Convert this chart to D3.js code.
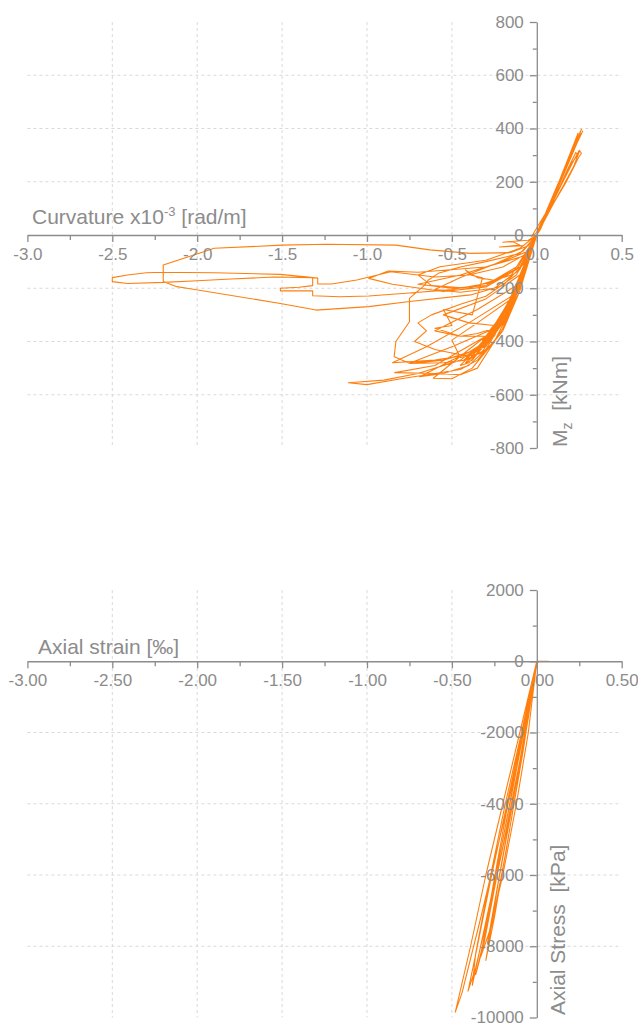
<html><head>
<title>Moment-curvature and axial stress-strain</title>
<style>
body { margin: 0; background: #fff; }
svg { display: block; font-family: "Liberation Sans", Arial, sans-serif; }
.axis path, .axis line { stroke: #8c8c8c; stroke-width: 1.3; }
.axis text { fill: #8c8c8c; font-size: 17px; font-family: "Liberation Sans", Arial, sans-serif; }
.grid line { stroke: #d9d9d9; stroke-width: 1; stroke-dasharray: 3,3; }
.title { fill: #8c8c8c; font-size: 21px; }
.curve { fill: none; stroke: #ff7f0e; stroke-width: 1.1; stroke-linejoin: round; }
</style>
<script src="https://cdnjs.cloudflare.com/ajax/libs/d3/7.8.5/d3.min.js"></script>
</head>
<body>
<svg id="chart" width="638" height="1026"></svg>
<script>
// tick values
const curvTicks = [-3.0, -2.5, -2.0, -1.5, -1.0, -0.5, 0.0, 0.5];
const momentTicks = [800, 600, 400, 200, 0, -200, -400, -600, -800];
const strainTicks = [-3.0, -2.5, -2.0, -1.5, -1.0, -0.5, 0.0, 0.5];
const stressTicks = [2000, 0, -2000, -4000, -6000, -8000, -10000];

// moment-curvature [curvature x1e-3, Mz], positive branch cycles
const mzPositive = [
  [0, 0], [0.07, 100], [0.14, 200], [0.2, 295], [0.263, 397], [0.24, 365], [0.16, 245], [0.08, 120], [0, 10],
  [-0.03, -5], [0.06, 90], [0.13, 190], [0.19, 285], [0.243, 382], [0.22, 345], [0.14, 215], [0.06, 85], [0, 0],
  [0.1, 120], [0.17, 195], [0.21, 245], [0.245, 290], [0.263, 307], [0.25, 318], [0.21, 270], [0.15, 195], [0.08, 105], [0.02, 20], [0, 0],
  [0.09, 110], [0.16, 190], [0.215, 255], [0.253, 317], [0.24, 305], [0.19, 250], [0.12, 160], [0.05, 60], [0, 0],
  [0.07, 105], [0.14, 205], [0.2, 300], [0.27, 390], [0.21, 310], [0.11, 160], [0, 0],
  [0.06, 95], [0.12, 185], [0.18, 270], [0.24, 360], [0.26, 380], [0.2, 290], [0.1, 140], [0, 0],
  [0.08, 110], [0.15, 200], [0.2, 265], [0.24, 300], [0.23, 310], [0.18, 245], [0.1, 130], [0, 0]
];

// small cycles around origin and the dense negative band
const mzNear = [
  [-0.05, -20], [-0.2, -27], [-0.14, -25], [-0.1, -38], [-0.22, -45], [-0.08, -40], [0, 0],
  [-0.05, -100], [-0.1, -190], [-0.15, -265], [-0.2, -325], [-0.25, -370], [-0.22, -345], [-0.15, -270], [-0.08, -150], [-0.02, -30], [0, 0],
  [-0.06, -110], [-0.12, -210], [-0.18, -290], [-0.24, -350], [-0.3, -405], [-0.27, -390], [-0.2, -320], [-0.12, -200], [-0.04, -60], [0, 0],
  [-0.07, -120], [-0.14, -230], [-0.21, -310], [-0.28, -375], [-0.35, -440], [-0.31, -420], [-0.22, -330], [-0.13, -210], [-0.05, -70], [0, 0],
  [-0.08, -130], [-0.16, -250], [-0.24, -330], [-0.32, -400], [-0.4, -470], [-0.36, -450], [-0.26, -360], [-0.15, -230], [-0.05, -80], [0, 0],
  [-0.06, -105], [-0.13, -215], [-0.2, -300], [-0.27, -360], [-0.33, -410], [-0.38, -440], [-0.3, -395], [-0.2, -300], [-0.1, -160], [0, 0],
  [-0.04, -80], [-0.09, -170], [-0.14, -245], [-0.19, -305], [-0.23, -345], [-0.2, -330], [-0.14, -255], [-0.07, -140], [0, 0],
  [-0.05, -95], [-0.11, -195], [-0.17, -280], [-0.23, -345], [-0.28, -390], [-0.33, -430], [-0.29, -410], [-0.21, -330], [-0.12, -205], [-0.04, -70], [0, 0],
  [-0.06, -100], [-0.12, -200], [-0.19, -290], [-0.26, -360], [-0.33, -420], [-0.42, -480], [-0.38, -470], [-0.28, -390], [-0.17, -270], [-0.07, -120], [0, 0],
  [-0.07, -115], [-0.15, -235], [-0.22, -315], [-0.3, -385], [-0.38, -445], [-0.45, -490], [-0.4, -480], [-0.3, -410], [-0.18, -290], [-0.08, -140], [0, 0],
  [-0.05, -90], [-0.1, -180], [-0.16, -262], [-0.22, -322], [-0.27, -365], [-0.32, -395], [-0.26, -370], [-0.18, -300], [-0.09, -170], [0, 0],
  [-0.06, -95], [-0.13, -205], [-0.2, -295], [-0.28, -370], [-0.36, -430], [-0.43, -470], [-0.39, -460], [-0.29, -380], [-0.16, -245], [-0.06, -90], [0, 0],
  [-0.1, -50], [-0.3, -95], [-0.57, -119], [-0.7, -150], [-0.62, -190], [-0.4, -200], [-0.15, -150], [0, 0],
  [-0.08, -60], [-0.25, -110], [-0.45, -160], [-0.6, -205], [-0.45, -215], [-0.25, -200], [-0.1, -130], [0, 0],
  [-0.1, -150], [-0.3, -240], [-0.55, -300], [-0.4, -330], [-0.25, -340], [-0.15, -250], [0, 0],
  [-0.12, -190], [-0.35, -280], [-0.6, -360], [-0.45, -380], [-0.3, -380], [-0.2, -320], [0, 0],
  [-0.05, -60], [-0.2, -100], [-0.45, -150], [-0.7, -185], [-0.5, -200], [-0.3, -190], [-0.1, -120], [0, 0]
];

// wide loops reaching far negative curvature
const mzFar = [
  [-0.05, -40], [-0.153, -66], [-0.39, -69], [-0.63, -56], [-0.83, -38], [-1.24, -35], [-1.5, -38], [-1.9, -50], [-2.2, -113],
  [-2.2, -175], [-2.12, -194], [-2.06, -200], [-1.51, -257], [-1.3, -282], [-0.99, -269], [-0.75, -250], [-0.39, -225], [-0.2, -190], [-0.08, -110], [0, 0],
  [-0.06, -70], [-0.2, -120], [-0.4, -150], [-0.6, -158], [-0.86, -138], [-0.98, -157], [-1.06, -169], [-1.21, -184], [-1.29, -184],
  [-1.29, -162], [-1.51, -148], [-1.9, -142], [-2.2, -140], [-2.3, -142], [-2.41, -150], [-2.5, -160], [-2.5, -175], [-2.41, -182],
  [-2.2, -178], [-2.0, -172], [-1.8, -165], [-1.55, -158], [-1.32, -160], [-1.32, -190], [-1.4, -196], [-1.51, -200], [-1.51, -210],
  [-1.32, -210], [-1.32, -228], [-1.16, -232], [-0.99, -229], [-0.75, -218], [-0.5, -205], [-0.28, -180], [-0.12, -120], [0, 0],
  [-0.08, -80], [-0.3, -120], [-0.7, -140], [-0.875, -135], [-0.99, -163], [-0.85, -185], [-0.69, -200], [-0.55, -212], [-0.3, -195], [-0.12, -130], [0, 0]
];

// irregular and lower loops
const mzLower = [
  [-0.1, -70], [-0.3, -100], [-0.45, -120], [-0.58, -144], [-0.64, -170], [-0.66, -188], [-0.75, -238], [-0.75, -326], [-0.83, -400],
  [-0.84, -457], [-0.75, -482], [-0.55, -470], [-0.4, -440], [-0.3, -400], [-0.2, -320], [-0.1, -180], [0, 0],
  [-0.1, -120], [-0.25, -170], [-0.35, -160], [-0.42, -131], [-0.39, -150], [-0.32, -161], [-0.38, -300], [-0.55, -280], [-0.5, -340],
  [-0.6, -350], [-0.45, -380], [-0.35, -370], [-0.25, -350], [-0.1, -200], [0, 0],
  [-0.1, -200], [-0.2, -320], [-0.3, -400], [-0.45, -470], [-0.7, -520], [-0.9, -545], [-1.11, -555], [-1.0, -562], [-0.8, -540],
  [-0.6, -520], [-0.45, -505], [-0.35, -470], [-0.2, -360], [-0.1, -210], [0, 0],
  [-0.15, -280], [-0.3, -410], [-0.5, -470], [-0.69, -532], [-0.55, -520], [-0.4, -490], [-0.25, -400], [-0.1, -210], [0, 0],
  [-0.15, -260], [-0.3, -380], [-0.6, -490], [-0.837, -517], [-0.6, -520], [-0.45, -525], [-0.35, -500], [-0.2, -350], [0, 0],
  [-0.2, -330], [-0.4, -430], [-0.61, -538], [-0.5, -540], [-0.38, -500], [-0.2, -360], [0, 0],
  [-0.12, -150], [-0.3, -230], [-0.45, -260], [-0.62, -300], [-0.7, -330], [-0.65, -360], [-0.72, -400], [-0.6, -430], [-0.45, -450],
  [-0.3, -420], [-0.15, -260], [0, 0],
  [-0.14, -250], [-0.28, -360], [-0.5, -420], [-0.75, -482], [-0.55, -480], [-0.42, -470], [-0.3, -430], [-0.15, -270], [0, 0],
  [-0.15, -240], [-0.35, -330], [-0.5, -395], [-0.45, -460], [-0.33, -445], [-0.2, -330], [0, 0],
  [-0.15, -230], [-0.4, -330], [-0.65, -420], [-0.85, -480], [-0.6, -470], [-0.4, -450], [-0.25, -380], [0, 0]
];

// axial strain [permil] vs axial stress [kPa]
const axialCurve = [
  [0, 0], [0.03, 0], [0.07, 0], [0.02, 0], [0, 0],
  [-0.08, -2000], [-0.16, -4000], [-0.24, -6000], [-0.3, -7500], [-0.33, -8300], [-0.28, -7600], [-0.2, -6000], [-0.12, -4000], [-0.05, -2000], [0, 0],
  [-0.09, -2100], [-0.18, -4100], [-0.27, -6100], [-0.35, -8000], [-0.405, -9260], [-0.36, -8600], [-0.28, -7000], [-0.2, -5200], [-0.1, -2800], [0, 0],
  [-0.07, -2000], [-0.15, -4200], [-0.23, -6300], [-0.3, -8400], [-0.25, -7200], [-0.17, -5000], [-0.08, -2500], [0, 0],
  [-0.08, -1900], [-0.17, -4000], [-0.25, -6100], [-0.32, -8000], [-0.36, -8800], [-0.31, -7900], [-0.23, -5900], [-0.14, -3900], [-0.05, -1600], [0, 0],
  [-0.06, -1800], [-0.14, -3900], [-0.22, -6000], [-0.29, -7900], [-0.26, -7300], [-0.18, -5300], [-0.1, -3000], [0, 0],
  [-0.09, -2000], [-0.19, -4100], [-0.28, -6200], [-0.36, -8200], [-0.38, -9100], [-0.34, -8200], [-0.25, -6200], [-0.15, -3800], [-0.05, -1300], [0, 0],
  [-0.1, -2000], [-0.2, -4000], [-0.3, -6000], [-0.39, -8000], [-0.48, -9850], [-0.44, -9300], [-0.33, -7200], [-0.22, -5000], [-0.12, -3000], [0, -100], [0.01, 0]
];

const svg = d3.select("#chart");

function panel(opt) {
  const g = svg.append("g");
  const x = opt.x, y = opt.y;
  const xr = x.range(), yr = y.range();

  // dashed grid
  const grid = g.append("g").attr("class", "grid");
  grid.selectAll(".gx")
    .data(opt.xTicks.filter(d => d !== 0 && d !== x.domain()[0] && d !== x.domain()[1]))
    .join("line")
    .attr("x1", d => x(d)).attr("x2", d => x(d))
    .attr("y1", yr[1]).attr("y2", yr[0]);
  grid.selectAll(".gy")
    .data(opt.yTicks.filter(d => d !== 0 && d !== y.domain()[0] && d !== y.domain()[1]))
    .join("line")
    .attr("x1", xr[0]).attr("x2", xr[1])
    .attr("y1", d => y(d)).attr("y2", d => y(d));

  // data
  const line = d3.line().x(d => x(d[0])).y(d => y(d[1]));
  g.append("path").datum(opt.data).attr("class", "curve").attr("d", line);

  // minor ticks
  g.append("g").attr("class", "axis")
    .attr("transform", `translate(0,${y(0)})`)
    .call(d3.axisBottom(x).tickValues(opt.xMinor).tickSize(5).tickFormat(""))
    .call(s => s.select(".domain").remove());
  g.append("g").attr("class", "axis")
    .attr("transform", `translate(${x(0)},0)`)
    .call(d3.axisLeft(y).tickValues(opt.yMinor).tickSize(4).tickFormat(""))
    .call(s => s.select(".domain").remove());

  // main axes
  g.append("g").attr("class", "axis")
    .attr("transform", `translate(0,${y(0)})`)
    .call(d3.axisBottom(x).tickValues(opt.xTicks).tickSize(7).tickSizeOuter(0).tickPadding(6).tickFormat(opt.xFmt));
  g.append("g").attr("class", "axis")
    .attr("transform", `translate(${x(0)},0)`)
    .call(d3.axisLeft(y).tickValues(opt.yTicks).tickSize(7).tickSizeOuter(0).tickPadding(6).tickFormat(d => String(d)));
  return g;
}

// top: moment-curvature
const x1 = d3.scaleLinear().domain([-3, 0.5]).range([27.4, 621.7]);
const y1 = d3.scaleLinear().domain([-800, 800]).range([448, 22]);
panel({
  x: x1, y: y1,
  xTicks: curvTicks, yTicks: momentTicks,
  xMinor: d3.range(-2.75, 0.5, 0.5), yMinor: d3.range(-700, 800, 200),
  xFmt: d => d.toFixed(1),
  data: [...mzPositive, ...mzNear, ...mzFar, ...mzLower]
});

const t1 = svg.append("text").attr("class", "title").attr("x", 32).attr("y", 224);
t1.append("tspan").text("Curvature x10");
t1.append("tspan").attr("dy", -8).attr("font-size", 13).text("-3");
t1.append("tspan").attr("dy", 8).text(" [rad/m]");

const t2 = svg.append("text").attr("class", "title")
  .attr("transform", "translate(567,447) rotate(-90)");
t2.append("tspan").text("M");
t2.append("tspan").attr("dy", 5).attr("font-size", 14).text("z");
t2.append("tspan").attr("dy", -5).text("\u00a0\u00a0[kNm]");

// bottom: axial stress-strain
const x2 = d3.scaleLinear().domain([-3, 0.5]).range([27.4, 621.7]);
const y2 = d3.scaleLinear().domain([-10000, 2000]).range([1017.5, 590]);
panel({
  x: x2, y: y2,
  xTicks: strainTicks, yTicks: stressTicks,
  xMinor: d3.range(-2.75, 0.5, 0.5), yMinor: d3.range(-9000, 2000, 2000),
  xFmt: d => d.toFixed(2),
  data: axialCurve
});

svg.append("text").attr("class", "title").attr("x", 38).attr("y", 654).text("Axial strain [\u2030]");
svg.append("text").attr("class", "title")
  .attr("transform", "translate(565,1015) rotate(-90)")
  .text("Axial Stress\u00a0\u00a0[kPa]");
</script>
</body>
</html>
